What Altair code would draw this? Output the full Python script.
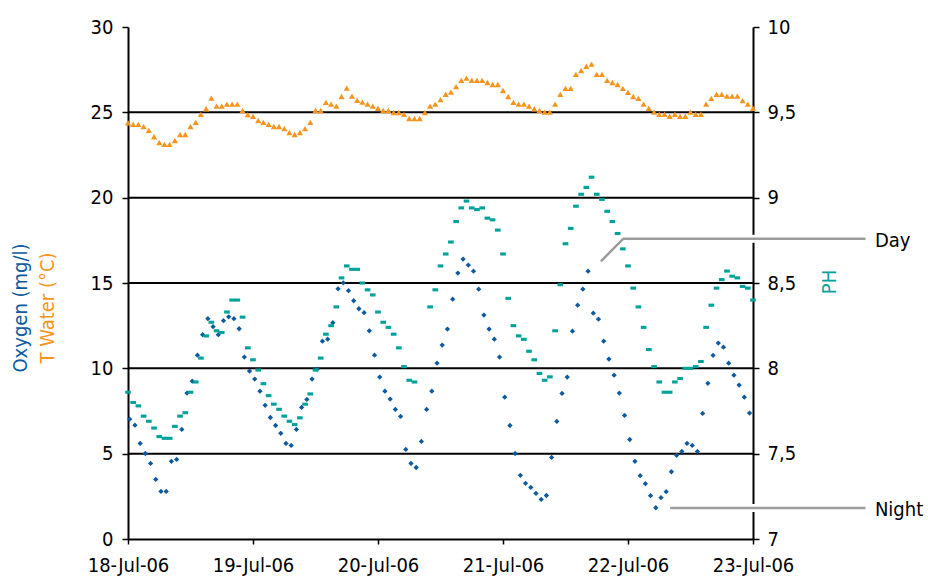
import json

import altair as alt
import pandas as pd

# ---------------------------------------------------------------------------
# Hourly readings, 18-Jul-06 00:00 to 23-Jul-06 00:00
# ---------------------------------------------------------------------------
DAY_LABELS = ["18-Jul-06", "19-Jul-06", "20-Jul-06", "21-Jul-06", "22-Jul-06", "23-Jul-06"]
DAY_HOURS = [0, 24, 48, 72, 96, 120]

# Water temperature (°C), one reading per hour starting at 00:00
TEMP = [
    24.39, 24.29, 24.29, 24.17, 23.94, 23.57, 23.23, 23.12, 23.12, 23.35,
    23.70, 23.70, 24.17, 24.41, 24.88, 25.21, 25.83, 25.36, 25.36, 25.48,
    25.48, 25.48, 25.11, 24.87, 24.76, 24.52, 24.41, 24.29, 24.17, 24.17,
    24.05, 23.82, 23.70, 23.82, 24.05, 24.41, 25.11, 25.11, 25.58, 25.48,
    25.36, 25.93, 26.42, 25.95, 25.71, 25.60, 25.48, 25.36, 25.24, 25.11,
    25.11, 24.99, 24.99, 24.88, 24.64, 24.64, 24.64, 24.99, 25.36, 25.48,
    25.74, 26.06, 26.18, 26.51, 26.87, 27.00, 26.87, 26.87, 26.87, 26.75,
    26.63, 26.63, 26.28, 25.93, 25.58, 25.48, 25.48, 25.36, 25.21, 25.11,
    25.01, 25.01, 25.48, 26.05, 26.40, 26.40, 27.22, 27.45, 27.70, 27.82,
    27.22, 27.22, 26.87, 26.75, 26.63, 26.40, 26.17, 25.93, 25.82, 25.48,
    25.24, 25.01, 24.89, 24.89, 24.77, 24.89, 24.77, 24.77, 25.01, 24.89,
    24.89, 25.48, 25.82, 26.06, 26.06, 25.95, 25.95, 25.95, 25.69, 25.48,
    25.24,
]

# Dissolved oxygen (mg/l), one reading per hour starting at 00:20
OXY_OFFSET_H = 1 / 3
OXYGEN = [
    7.02, 6.67, 5.60, 5.01, 4.43, 3.49, 2.79, 2.79, 4.55, 4.66,
    6.42, 8.55, 9.25, 10.77, 11.97, 12.91, 12.44, 11.97, 12.79, 13.02,
    12.91, 12.32, 10.66, 9.84, 9.37, 8.66, 7.83, 7.12, 6.65, 6.19,
    5.60, 5.48, 6.42, 7.71, 8.18, 9.37, 9.95, 11.59, 11.71, 12.67,
    14.66, 15.01, 14.55, 13.96, 13.49, 13.26, 12.20, 10.77, 9.49, 8.66,
    8.20, 7.59, 7.18, 5.25, 4.43, 4.19, 5.72, 7.59, 8.66, 10.30,
    11.36, 12.30, 14.05, 15.58, 16.40, 16.05, 15.69, 14.64, 13.12, 12.30,
    11.71, 10.66, 8.31, 6.65, 5.01, 3.73, 3.26, 3.02, 2.67, 2.32,
    2.55, 4.78, 6.89, 8.53, 9.49, 12.18, 13.70, 14.64, 15.69, 13.23,
    12.88, 11.59, 10.54, 9.60, 8.55, 7.24, 5.83, 4.55, 3.71, 3.24,
    2.54, 1.83, 2.42, 2.77, 3.94, 4.90, 5.13, 5.60, 5.48, 5.13,
    7.36, 9.12, 10.76, 11.48, 11.24, 10.30, 9.60, 9.02, 8.31, 7.38,
]

# pH, one reading per hour starting at 00:00 (None = no reading logged)
PH = [
    7.86, 7.80, 7.78, 7.72, 7.69, 7.65, 7.60, 7.59, 7.59, 7.66,
    7.72, 7.74, 7.86, 7.92, 8.06, 8.19, 8.27, 8.22, 8.21, 8.33,
    8.40, 8.40, 8.30, 8.12, 8.05, 7.99, 7.91, 7.84, 7.79, 7.76,
    7.72, 7.69, 7.67, 7.71, 7.79, 7.85, 7.99, 8.06, 8.20, 8.25,
    8.36, 8.53, 8.60, 8.58, 8.58, 8.50, 8.46, 8.43, 8.33, 8.27,
    8.24, 8.20, 8.12, 8.01, 7.93, 7.92, None, None, 8.36, 8.46,
    8.60, 8.67, 8.74, 8.86, 8.94, 8.98, 8.94, 8.93, 8.94, 8.88,
    8.87, 8.81, 8.67, 8.41, 8.25, 8.19, 8.17, 8.10, 8.05, 7.97,
    7.93, 7.95, 8.22, 8.49, 8.73, 8.82, 8.95, 9.02, 9.06, 9.12,
    9.02, 8.99, 8.92, 8.86, 8.79, 8.70, 8.60, 8.47, 8.36, 8.24,
    8.11, 8.01, 7.92, 7.86, 7.86, 7.92, 7.94, 8.00, 8.00, 8.01,
    8.04, 8.24, 8.37, 8.47, 8.52, 8.57, 8.54, 8.53, 8.48, 8.47,
    8.40,
]

LEFT_TICKS = [0, 5, 10, 15, 20, 25, 30]
GRID_LEVELS = [5, 10, 15, 20, 25]
PH_TICKS = [7, 7.5, 8, 8.5, 9, 9.5, 10]

# Call-outs: path in (hour, left-axis value) and label placement
CALLOUT_NAME = ["Day", "Day", "Day", "Night", "Night"]
CALLOUT_STEP = [0, 1, 2, 0, 1]
CALLOUT_HOUR = [90.8, 95.1, 141.6, 104.1, 141.6]
CALLOUT_VALUE = [16.27, 17.60, 17.60, 1.81, 1.81]
CALLOUT_LABEL = ["Day", "Night"]
CALLOUT_LABEL_HOUR = [143.4, 143.4]
CALLOUT_LABEL_VALUE = [17.60, 1.81]

FONT = "Liberation Sans Narrow, DejaVu Sans Condensed, Arial Narrow, sans-serif"
ORANGE = "#F7941E"
BLUE = "#0D5A9E"
TEAL = "#00A29A"

# ---------------------------------------------------------------------------
temp_df = pd.DataFrame({"hour": list(range(len(TEMP))), "value": TEMP})
oxy_df = pd.DataFrame({"hour": [i + OXY_OFFSET_H for i in range(len(OXYGEN))], "value": OXYGEN})
ph_df = pd.DataFrame({"hour": list(range(len(PH))), "ph": PH}).dropna()
grid_df = pd.DataFrame({"level": GRID_LEVELS})
callout_df = pd.DataFrame({"name": CALLOUT_NAME, "step": CALLOUT_STEP,
                           "hour": CALLOUT_HOUR, "value": CALLOUT_VALUE})
callout_lbl_df = pd.DataFrame({"label": CALLOUT_LABEL, "hour": CALLOUT_LABEL_HOUR,
                               "value": CALLOUT_LABEL_VALUE})

x_labels = "{}[round(datum.value / 24)]".format(json.dumps(DAY_LABELS).replace('"', "'"))
x_enc = alt.X(
    "hour:Q",
    scale=alt.Scale(domain=[0, 120], nice=False, zero=False),
    axis=alt.Axis(values=DAY_HOURS, labelExpr=x_labels, title="", tickSize=5,
                  labelPadding=11, labelFlush=False, labelOverlap=False,
                  domainWidth=2, grid=False),
)

left_scale = alt.Scale(domain=[0, 30], nice=False, zero=True)
left_axis = alt.Axis(values=LEFT_TICKS, title="", tickSize=6, labelPadding=9,
                     domainWidth=2, grid=False)

grid = alt.Chart(grid_df).mark_rule(color="#000000", strokeWidth=2).encode(
    y=alt.Y("level:Q", scale=left_scale, axis=left_axis)
)

temp_pts = alt.Chart(temp_df).mark_point(
    shape="triangle-up", filled=True, size=38, color=ORANGE, opacity=1
).encode(x=x_enc, y=alt.Y("value:Q", scale=left_scale, axis=left_axis))

oxy_pts = alt.Chart(oxy_df).mark_point(
    shape="diamond", filled=True, size=28, color=BLUE, opacity=1
).encode(x=x_enc, y=alt.Y("value:Q", scale=left_scale, axis=left_axis))


def title_text(label, color, px, py):
    return alt.Chart(pd.DataFrame({"label": [label]})).mark_text(
        angle=270, align="center", baseline="middle", font=FONT, fontSize=20, color=color
    ).encode(text="label:N", x=alt.value(px), y=alt.value(py))


left_layer = alt.layer(
    grid,
    temp_pts,
    oxy_pts,
    title_text("Oxygen (mg/l)", BLUE, -107, 281),
    title_text("T Water (°C)", ORANGE, -80, 281),
    title_text("PH", TEAL, 702, 255),
)

ph_pts = alt.Chart(ph_df).mark_point(
    shape="M-1,-0.55L1,-0.55L1,0.55L-1,0.55Z", filled=True, size=32, color=TEAL, opacity=1
).encode(
    x=x_enc,
    y=alt.Y(
        "ph:Q",
        scale=alt.Scale(domain=[7, 10], nice=False, zero=False),
        axis=alt.Axis(orient="right", values=PH_TICKS, title="", tickSize=6, labelPadding=8,
                      labelExpr="replace(toString(datum.value), '.', ',')",
                      domainWidth=2, grid=False),
    ),
)

callout_scale = alt.Scale(domain=[0, 30], nice=False, zero=True)
callout_halo = alt.Chart(callout_df).mark_line(color="#FFFFFF", strokeWidth=8).encode(
    x=x_enc, y=alt.Y("value:Q", scale=callout_scale, axis=None),
    detail="name:N", order="step:Q",
)
callout_line = alt.Chart(callout_df).mark_line(color="#9B9B9B", strokeWidth=2.5).encode(
    x=x_enc, y=alt.Y("value:Q", scale=callout_scale, axis=None),
    detail="name:N", order="step:Q",
)
callout_text = alt.Chart(callout_lbl_df).mark_text(
    align="left", baseline="middle", dy=2, font=FONT, fontSize=20, color="#000000"
).encode(x=x_enc, y=alt.Y("value:Q", scale=callout_scale, axis=None), text="label:N")

callouts = alt.layer(callout_halo, callout_line, callout_text)

chart = (
    alt.layer(left_layer, ph_pts, callouts)
    .resolve_scale(y="independent")
    .properties(
        width=625,
        height=512,
        autosize=alt.AutoSizeParams(type="none"),
        padding={"left": 128, "top": 27, "right": 175, "bottom": 44},
    )
    .configure_view(stroke=None)
    .configure_axis(
        labelFont=FONT,
        labelFontSize=20,
        labelColor="#000000",
        domainColor="#000000",
        tickColor="#000000",
        tickWidth=1.5,
    )
)

chart.save("out.html", embed_options={"renderer": "svg", "actions": False})
